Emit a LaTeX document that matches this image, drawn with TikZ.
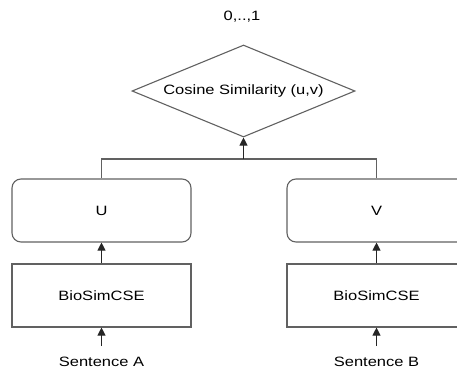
\documentclass[tikz,border=0pt]{standalone}
\usepackage{fontspec}
\setmainfont{Liberation Sans}
\usepackage{graphicx}
\usetikzlibrary{shapes.geometric,arrows.meta}
\newcommand\sqtext[1]{\scalebox{1}[0.82]{#1}}
\tikzset{
  every node/.style={font=\fontsize{16.5}{18}\selectfont, text=black},
  boxline/.style={draw=black!62, line width=1.1pt},
  roundbox/.style={boxline, rounded corners=9pt, minimum width=179pt, minimum height=63pt, inner sep=0pt},
  encbox/.style={boxline, minimum width=179pt, minimum height=63pt, inner sep=0pt},
  simdiamond/.style={boxline, shape=diamond, aspect=3.8, minimum width=223pt, minimum height=92pt, inner sep=0pt},
  arr/.style={draw=black!85, line width=1.1pt, -{Triangle[length=8pt,width=8pt]}},
  plain/.style={draw=black!62, line width=1.1pt},
  bottomlabel/.style={inner sep=0pt, anchor=base}
}
\begin{document}
\begin{tikzpicture}[x=1pt,y=1pt]
\useasboundingbox (0,0) rectangle (457,368);
\clip (0,0) rectangle (457,368);
% y_tikz = 368 - y_img
\node (out) at (242,351) {\sqtext{0,..,1}};
\node[simdiamond] (cos) at (243.5,277) {\sqtext{Cosine Similarity (u,v)}};
\node[roundbox] (u) at (101.5,157.5) {\sqtext{U}};
\node[roundbox] (v) at (376.5,157.5) {\sqtext{V}};
\node[encbox] (encA) at (101.5,72.5) {\sqtext{BioSimCSE}};
\node[encbox] (encB) at (376.5,72.5) {\sqtext{BioSimCSE}};
\node[bottomlabel] (sa) at (101.5,1.5) {\sqtext{Sentence A}};
\node[bottomlabel] (sb) at (376.5,1.5) {\sqtext{Sentence B}};
\coordinate (join) at (243.5,209);
\coordinate (srcA) at (101.5,22);
\coordinate (srcB) at (376.5,22);
\draw[arr] (srcA) -- (encA.south);
\draw[arr] (srcB) -- (encB.south);
\draw[arr] (encA.north) -- (u.south);
\draw[arr] (encB.north) -- (v.south);
\draw[plain] (u.north) |- (join) -| (v.north);
\draw[arr] (join) -- (cos.south);
\end{tikzpicture}
\end{document}
